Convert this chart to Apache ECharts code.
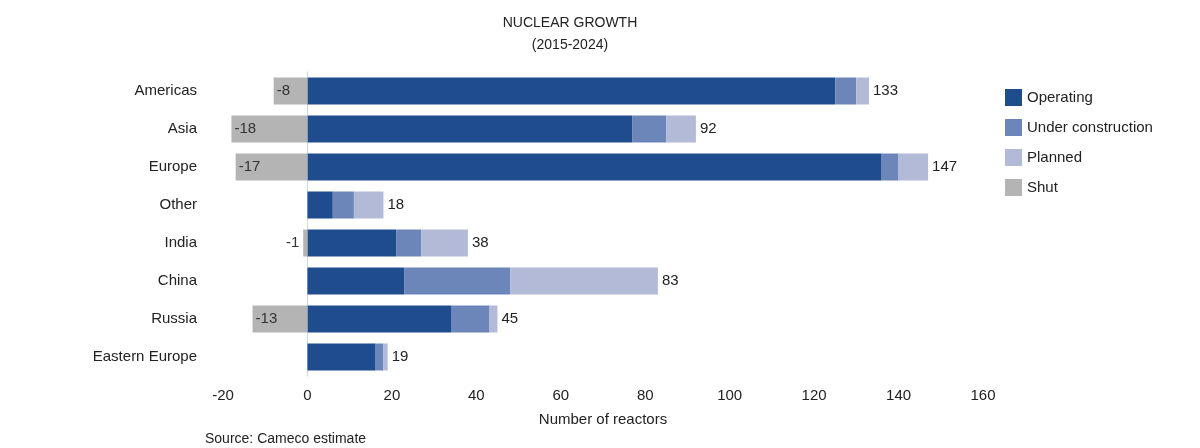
<!DOCTYPE html>
<html>
<head>
<meta charset="utf-8">
<script src="https://cdn.jsdelivr.net/npm/echarts@6/dist/echarts.min.js"></script>
<style>html,body{margin:0;padding:0;background:#fff;}#c{width:1200px;height:448px;}</style>
</head>
<body>
<div id="c"></div>
<script>
var categories = ['Americas','Asia','Europe','Other','India','China','Russia','Eastern Europe'];
var operating = [125, 77, 136, 6, 21, 23, 34, 16];
var underConstruction = [5, 8, 4, 5, 6, 25, 9, 2];
var planned = [3, 7, 7, 7, 11, 35, 2, 1];
var shut = [-8, -18, -17, 0, -1, 0, -13, 0];
var totals = [133, 92, 147, 18, 38, 83, 45, 19];
var xTicks = [-20, 0, 20, 40, 60, 80, 100, 120, 140, 160];

var FONT = '"Liberation Sans", Arial, sans-serif';
var cats = categories.slice().reverse();
function rev(a){ return a.slice().reverse(); }

var shutData = rev(shut).map(function(v){
  if (v === 0) return {value: '-', label: {show: false}};
  if (v > -3) return {value: v, label: {position: 'left', distance: 4}};
  return {value: v};
});
var totalsR = rev(totals);

var chart = echarts.init(document.getElementById('c'));
chart.setOption({
  animation: false,
  backgroundColor: '#fff',
  textStyle: {fontFamily: FONT},
  title: {
    text: 'NUCLEAR GROWTH\n(2015-2024)',
    left: 565, top: 7, textAlign: 'center',
    textStyle: {fontFamily: FONT, fontSize: 14, fontWeight: 'normal', color: '#222', lineHeight: 22}
  },
  legend: {
    orient: 'vertical', left: 1000, top: 84, itemGap: 13,
    itemWidth: 17, itemHeight: 17, icon: 'rect',
    textStyle: {fontFamily: FONT, fontSize: 15, color: '#222'},
    data: ['Operating', 'Under construction', 'Planned', 'Shut']
  },
  grid: {left: 223, right: 217, top: 72, bottom: 72, containLabel: false},
  xAxis: {
    type: 'value', min: -20, max: 160, interval: 20,
    name: 'Number of reactors', nameLocation: 'middle', nameGap: 36,
    nameTextStyle: {fontFamily: FONT, fontSize: 15, color: '#222'},
    axisLine: {show: false}, axisTick: {show: false},
    splitLine: {show: false},
    axisLabel: {fontFamily: FONT, fontSize: 15, color: '#222', margin: 12,
      formatter: function(v){ return xTicks.indexOf(v) >= 0 ? String(v) : ''; }}
  },
  yAxis: {
    type: 'category', data: cats,
    axisLine: {show: true, onZero: true, lineStyle: {color: '#c9d6ec', width: 1}},
    axisTick: {show: false},
    axisLabel: {fontFamily: FONT, fontSize: 15, color: '#222', margin: 26}
  },
  graphic: [{
    type: 'text', left: 205, top: 432,
    style: {text: 'Source: Cameco estimate', font: '14px ' + FONT, fill: '#222'}
  }],
  series: [
    {name: 'Operating', type: 'bar', stack: 'all', barWidth: 27, data: rev(operating),
      itemStyle: {color: '#1f4c8d'}},
    {name: 'Under construction', type: 'bar', stack: 'all', barWidth: 27, data: rev(underConstruction),
      itemStyle: {color: '#6c86ba'}},
    {name: 'Planned', type: 'bar', stack: 'all', barWidth: 27, data: rev(planned),
      itemStyle: {color: '#b3bad8'},
      label: {show: true, position: 'right', distance: 4,
        fontFamily: FONT, fontSize: 15, color: '#222',
        formatter: function(p){ return String(totalsR[p.dataIndex]); }}},
    {name: 'Shut', type: 'bar', stack: 'all', barWidth: 27, data: shutData,
      itemStyle: {color: '#b4b4b4'},
      label: {show: true, position: 'insideLeft', distance: 3,
        fontFamily: FONT, fontSize: 15, color: '#333'}}
  ]
});
</script>
</body>
</html>
